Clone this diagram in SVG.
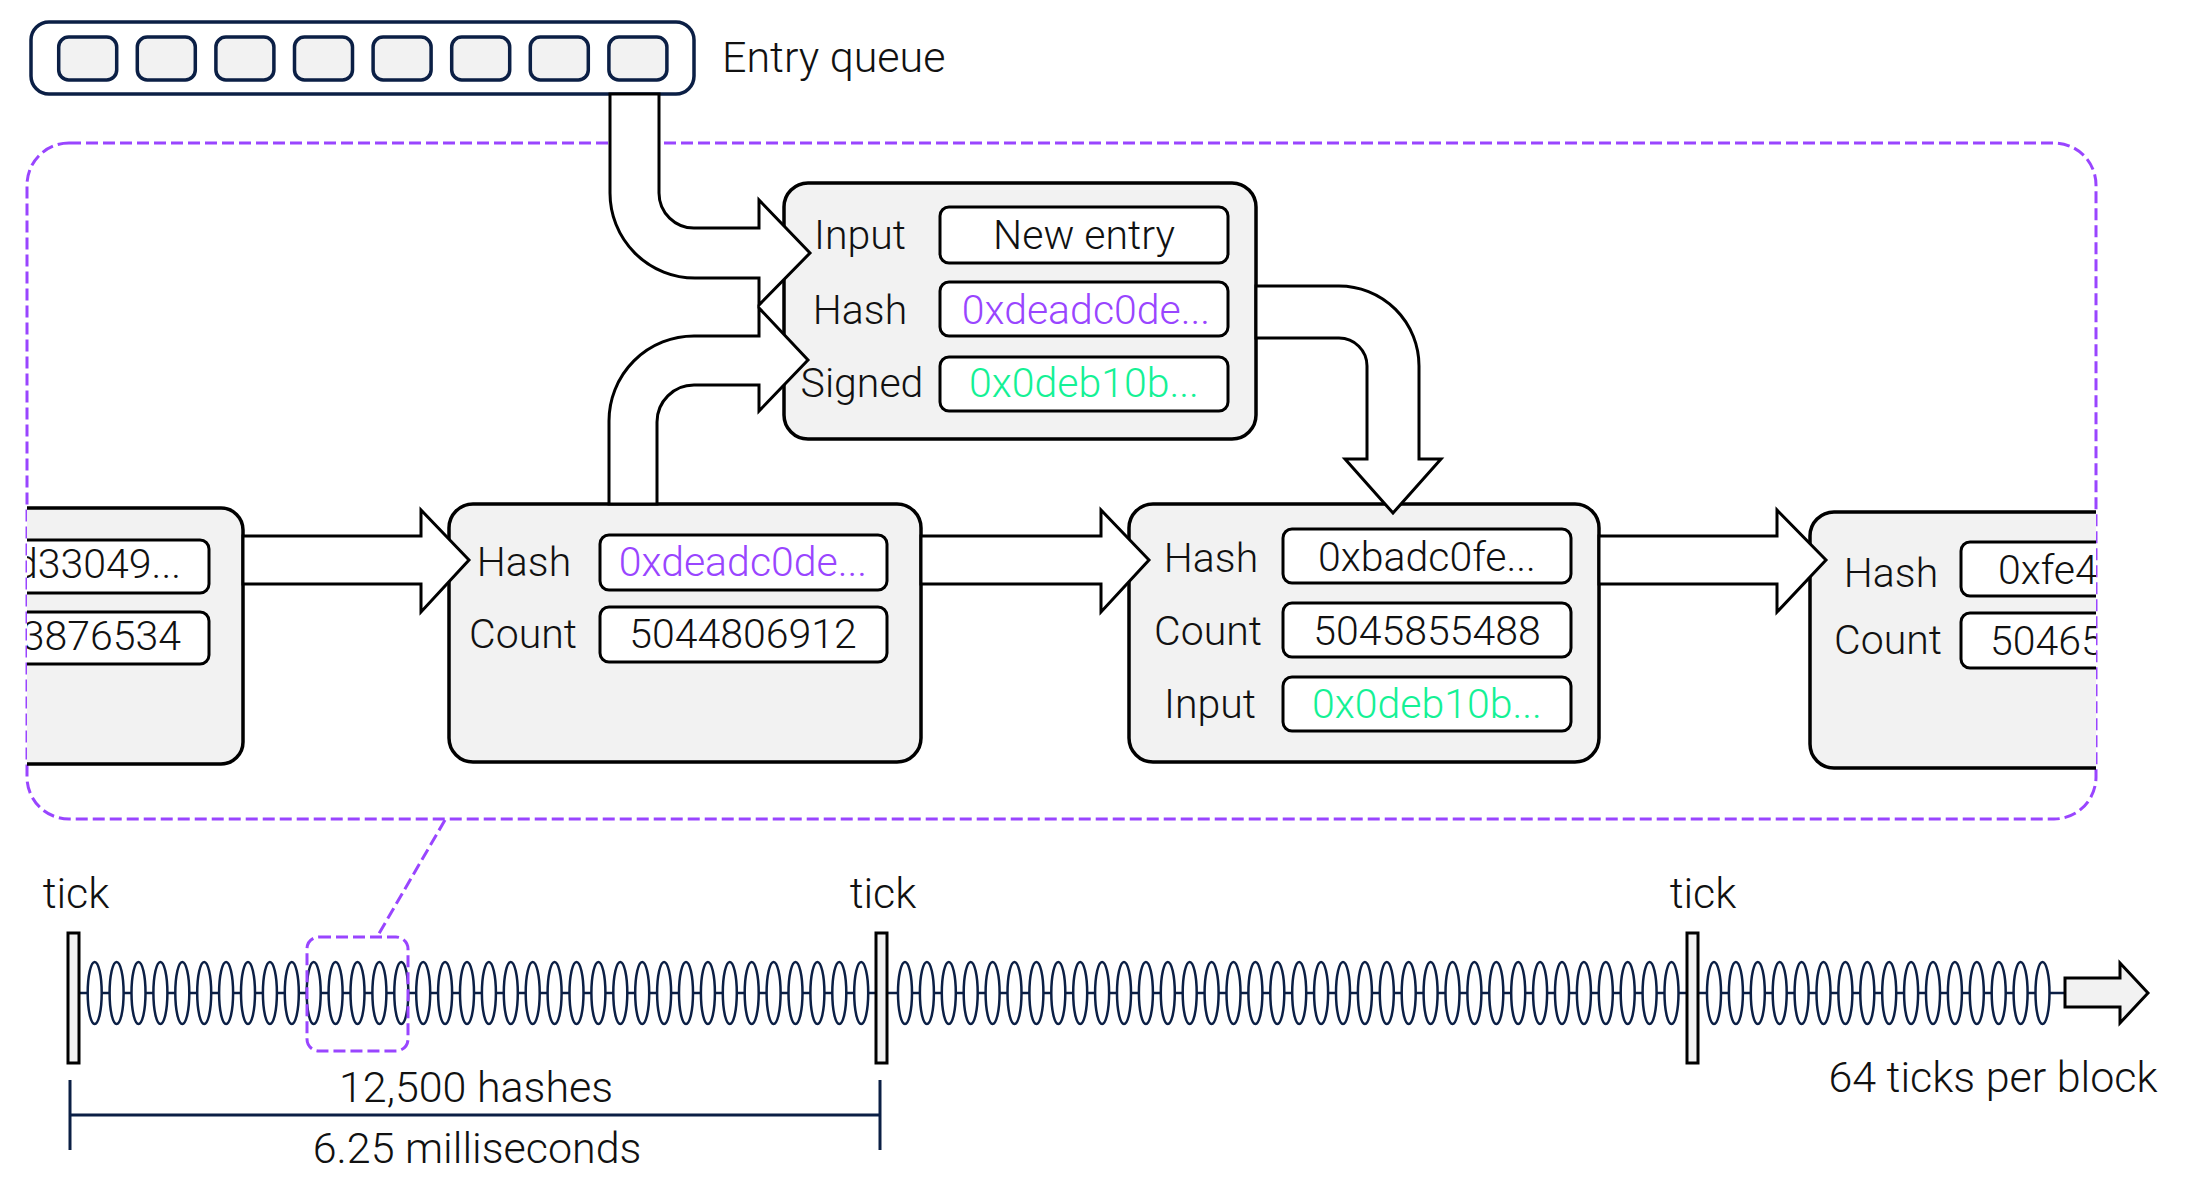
<svg xmlns="http://www.w3.org/2000/svg" width="2192" height="1180" viewBox="0 0 2192 1180">
<style>
text{font-family:Roboto,"Liberation Sans",sans-serif;font-weight:300;font-size:41px;fill:#111}
.lab{text-anchor:middle}
.val{text-anchor:middle}
.big{font-size:43px}
.pur{fill:#9945FF}
.grn{fill:#14F195}
.node{fill:#f2f2f2;stroke:#000;stroke-width:3.5}
.vbox{fill:#fff;stroke:#000;stroke-width:3}
.qbox{fill:#f2f2f2;stroke:#0b1f45;stroke-width:3.5}
.arrow{fill:#fff;stroke:#000;stroke-width:3;stroke-linejoin:miter}
.dash{fill:none;stroke:#9945FF;stroke-width:3;stroke-dasharray:12 5}
.coil ellipse{fill:#fff;stroke:#0b1f45;stroke-width:2.5}
.tickbar{fill:#f2f2f2;stroke:#000;stroke-width:3}
</style>
<defs>
<clipPath id="frame"><rect x="27" y="143" width="2069" height="676" rx="42"/></clipPath>
</defs>
<rect width="2192" height="1180" fill="#fff"/>

<g id="entry-queue">
<rect x="31" y="22" width="663" height="72" rx="18" fill="#fff" stroke="#0b1f45" stroke-width="3.5"/>
<rect class="qbox" x="58.7" y="37" width="58" height="43" rx="10"/>
<rect class="qbox" x="137.3" y="37" width="58" height="43" rx="10"/>
<rect class="qbox" x="215.9" y="37" width="58" height="43" rx="10"/>
<rect class="qbox" x="294.5" y="37" width="58" height="43" rx="10"/>
<rect class="qbox" x="373.1" y="37" width="58" height="43" rx="10"/>
<rect class="qbox" x="451.7" y="37" width="58" height="43" rx="10"/>
<rect class="qbox" x="530.3" y="37" width="58" height="43" rx="10"/>
<rect class="qbox" x="608.9" y="37" width="58" height="43" rx="10"/>
<text class="big" x="722" y="72">Entry queue</text>
</g>

<rect id="poh-frame" class="dash" x="27" y="143" width="2069" height="676" rx="42"/>

<g id="node-prev" clip-path="url(#frame)">
<rect class="node" x="-227" y="508" width="470" height="256" rx="22"/>
<rect class="vbox" x="-79" y="540" width="288" height="53" rx="9"/>
<rect class="vbox" x="-79" y="612" width="288" height="52" rx="9"/>
<text x="181" y="578" text-anchor="end">d33049...</text>
<text x="181" y="650" text-anchor="end">3876534</text>
</g>

<g id="node-entry">
<rect class="node" x="784" y="183" width="472" height="256" rx="24"/>
<rect class="vbox" x="940" y="207" width="288" height="56" rx="9"/>
<rect class="vbox" x="940" y="282" width="288" height="54" rx="9"/>
<rect class="vbox" x="940" y="357" width="288" height="54" rx="9"/>
<text class="lab" x="860" y="249">Input</text>
<text class="lab" x="860" y="324">Hash</text>
<text class="lab" x="862" y="397">Signed</text>
<text class="val" x="1084" y="249">New entry</text>
<text class="val pur" x="1086" y="324">0xdeadc0de...</text>
<text class="val grn" x="1084" y="397">0x0deb10b...</text>
</g>

<g id="node-b">
<rect class="node" x="449" y="504" width="472" height="258" rx="24"/>
<rect class="vbox" x="600" y="535" width="287" height="55" rx="9"/>
<rect class="vbox" x="600" y="607" width="287" height="55" rx="9"/>
<text class="lab" x="524" y="576">Hash</text>
<text class="lab" x="523" y="648">Count</text>
<text class="val pur" x="743" y="576">0xdeadc0de...</text>
<text class="val" x="743" y="648">5044806912</text>
</g>

<g id="node-c">
<rect class="node" x="1129" y="504" width="470" height="258" rx="24"/>
<rect class="vbox" x="1283" y="529" width="288" height="54" rx="9"/>
<rect class="vbox" x="1283" y="603" width="288" height="54" rx="9"/>
<rect class="vbox" x="1283" y="677" width="288" height="54" rx="9"/>
<text class="lab" x="1211" y="572">Hash</text>
<text class="lab" x="1208" y="645">Count</text>
<text class="lab" x="1210" y="718">Input</text>
<text class="val" x="1427" y="571">0xbadc0fe...</text>
<text class="val" x="1427" y="645">5045855488</text>
<text class="val grn" x="1427" y="718">0x0deb10b...</text>
</g>

<g id="node-next" clip-path="url(#frame)">
<rect class="node" x="1810" y="512" width="470" height="256" rx="24"/>
<rect class="vbox" x="1961" y="542" width="288" height="54" rx="9"/>
<rect class="vbox" x="1961" y="613" width="288" height="55" rx="9"/>
<text class="lab" x="1891" y="587">Hash</text>
<text class="lab" x="1888" y="654">Count</text>
<text x="1998" y="584">0xfe4</text>
<text x="1990" y="655">50465</text>
</g>

<g id="connectors">
<path class="arrow" d="M610,94 L610,193 A85,85 0 0 0 695,278 L759,278 L759,305 L810,253 L759,200 L759,228 L695,228 A35,35 0 0 1 659,193 L659,94 Z"/>
<path class="arrow" d="M609,504 L609,421 A85,85 0 0 1 694,336 L759,336 L759,308 L808,360 L759,411 L759,385 L694,385 A37,37 0 0 0 657,422 L657,504 Z"/>
<path class="arrow" d="M1256,286 L1339,286 A80,80 0 0 1 1419,366 L1419,459 L1441,459 L1393,513 L1345,459 L1367,459 L1367,366 A28,28 0 0 0 1339,338 L1256,338 Z"/>
<path class="arrow" d="M243,536 L421,536 L421,510 L469,560 L421,612 L421,584 L243,584 Z"/>
<path class="arrow" d="M921,536 L1101,536 L1101,510 L1149,560 L1101,612 L1101,584 L921,584 Z"/>
<path class="arrow" d="M1599,536 L1777,536 L1777,510 L1826,560 L1777,612 L1777,584 L1599,584 Z"/>
<line x1="445" y1="820" x2="377" y2="937" stroke="#9945FF" stroke-width="3" stroke-dasharray="12 5"/>
</g>

<g id="timeline">
<line x1="79" y1="993" x2="2066" y2="993" stroke="#0b1f45" stroke-width="2.5"/>
<g class="coil">
<ellipse cx="94.7" cy="993" rx="7" ry="31"/><ellipse cx="116.6" cy="993" rx="7" ry="31"/><ellipse cx="138.5" cy="993" rx="7" ry="31"/><ellipse cx="160.4" cy="993" rx="7" ry="31"/><ellipse cx="182.3" cy="993" rx="7" ry="31"/><ellipse cx="204.2" cy="993" rx="7" ry="31"/><ellipse cx="226.1" cy="993" rx="7" ry="31"/><ellipse cx="248" cy="993" rx="7" ry="31"/><ellipse cx="269.9" cy="993" rx="7" ry="31"/><ellipse cx="291.8" cy="993" rx="7" ry="31"/><ellipse cx="313.7" cy="993" rx="7" ry="31"/><ellipse cx="335.6" cy="993" rx="7" ry="31"/><ellipse cx="357.5" cy="993" rx="7" ry="31"/><ellipse cx="379.4" cy="993" rx="7" ry="31"/><ellipse cx="401.3" cy="993" rx="7" ry="31"/><ellipse cx="423.2" cy="993" rx="7" ry="31"/><ellipse cx="445.1" cy="993" rx="7" ry="31"/><ellipse cx="467" cy="993" rx="7" ry="31"/><ellipse cx="488.9" cy="993" rx="7" ry="31"/><ellipse cx="510.8" cy="993" rx="7" ry="31"/><ellipse cx="532.7" cy="993" rx="7" ry="31"/><ellipse cx="554.6" cy="993" rx="7" ry="31"/><ellipse cx="576.5" cy="993" rx="7" ry="31"/><ellipse cx="598.4" cy="993" rx="7" ry="31"/><ellipse cx="620.3" cy="993" rx="7" ry="31"/><ellipse cx="642.2" cy="993" rx="7" ry="31"/><ellipse cx="664.1" cy="993" rx="7" ry="31"/><ellipse cx="686" cy="993" rx="7" ry="31"/><ellipse cx="707.9" cy="993" rx="7" ry="31"/><ellipse cx="729.8" cy="993" rx="7" ry="31"/><ellipse cx="751.7" cy="993" rx="7" ry="31"/><ellipse cx="773.6" cy="993" rx="7" ry="31"/><ellipse cx="795.5" cy="993" rx="7" ry="31"/><ellipse cx="817.4" cy="993" rx="7" ry="31"/><ellipse cx="839.3" cy="993" rx="7" ry="31"/><ellipse cx="861.2" cy="993" rx="7" ry="31"/>
<ellipse cx="905" cy="993" rx="7" ry="31"/><ellipse cx="926.9" cy="993" rx="7" ry="31"/><ellipse cx="948.8" cy="993" rx="7" ry="31"/><ellipse cx="970.7" cy="993" rx="7" ry="31"/><ellipse cx="992.6" cy="993" rx="7" ry="31"/><ellipse cx="1014.5" cy="993" rx="7" ry="31"/><ellipse cx="1036.4" cy="993" rx="7" ry="31"/><ellipse cx="1058.3" cy="993" rx="7" ry="31"/><ellipse cx="1080.2" cy="993" rx="7" ry="31"/><ellipse cx="1102.1" cy="993" rx="7" ry="31"/><ellipse cx="1124" cy="993" rx="7" ry="31"/><ellipse cx="1145.9" cy="993" rx="7" ry="31"/><ellipse cx="1167.8" cy="993" rx="7" ry="31"/><ellipse cx="1189.7" cy="993" rx="7" ry="31"/><ellipse cx="1211.6" cy="993" rx="7" ry="31"/><ellipse cx="1233.5" cy="993" rx="7" ry="31"/><ellipse cx="1255.4" cy="993" rx="7" ry="31"/><ellipse cx="1277.3" cy="993" rx="7" ry="31"/><ellipse cx="1299.2" cy="993" rx="7" ry="31"/><ellipse cx="1321.1" cy="993" rx="7" ry="31"/><ellipse cx="1343" cy="993" rx="7" ry="31"/><ellipse cx="1364.9" cy="993" rx="7" ry="31"/><ellipse cx="1386.8" cy="993" rx="7" ry="31"/><ellipse cx="1408.7" cy="993" rx="7" ry="31"/><ellipse cx="1430.6" cy="993" rx="7" ry="31"/><ellipse cx="1452.5" cy="993" rx="7" ry="31"/><ellipse cx="1474.4" cy="993" rx="7" ry="31"/><ellipse cx="1496.3" cy="993" rx="7" ry="31"/><ellipse cx="1518.2" cy="993" rx="7" ry="31"/><ellipse cx="1540.1" cy="993" rx="7" ry="31"/><ellipse cx="1562" cy="993" rx="7" ry="31"/><ellipse cx="1583.9" cy="993" rx="7" ry="31"/><ellipse cx="1605.8" cy="993" rx="7" ry="31"/><ellipse cx="1627.7" cy="993" rx="7" ry="31"/><ellipse cx="1649.6" cy="993" rx="7" ry="31"/><ellipse cx="1671.5" cy="993" rx="7" ry="31"/>
<ellipse cx="1714" cy="993" rx="7" ry="31"/><ellipse cx="1735.9" cy="993" rx="7" ry="31"/><ellipse cx="1757.8" cy="993" rx="7" ry="31"/><ellipse cx="1779.7" cy="993" rx="7" ry="31"/><ellipse cx="1801.6" cy="993" rx="7" ry="31"/><ellipse cx="1823.5" cy="993" rx="7" ry="31"/><ellipse cx="1845.4" cy="993" rx="7" ry="31"/><ellipse cx="1867.3" cy="993" rx="7" ry="31"/><ellipse cx="1889.2" cy="993" rx="7" ry="31"/><ellipse cx="1911.1" cy="993" rx="7" ry="31"/><ellipse cx="1933" cy="993" rx="7" ry="31"/><ellipse cx="1954.9" cy="993" rx="7" ry="31"/><ellipse cx="1976.8" cy="993" rx="7" ry="31"/><ellipse cx="1998.7" cy="993" rx="7" ry="31"/><ellipse cx="2020.6" cy="993" rx="7" ry="31"/><ellipse cx="2042.5" cy="993" rx="7" ry="31"/>
</g>
<rect class="tickbar" x="68" y="933" width="11" height="130"/>
<rect class="tickbar" x="876" y="933" width="11" height="130"/>
<rect class="tickbar" x="1687" y="933" width="11" height="130"/>
<text class="lab big" x="76" y="908">tick</text>
<text class="lab big" x="883" y="908">tick</text>
<text class="lab big" x="1703" y="908">tick</text>
<rect class="dash" x="307" y="937" width="101" height="114" rx="12"/>
<path d="M2065,978 L2120,978 L2120,963 L2148,993 L2120,1023 L2120,1007 L2065,1007 Z" fill="#f2f2f2" stroke="#000" stroke-width="3"/>
<text class="lab big" x="1993" y="1092">64 ticks per block</text>
<g stroke="#0b1f45" stroke-width="3">
<line x1="70" y1="1080" x2="70" y2="1150"/>
<line x1="880" y1="1080" x2="880" y2="1150"/>
<line x1="70" y1="1115" x2="880" y2="1115"/>
</g>
<text class="lab big" x="476" y="1102">12,500 hashes</text>
<text class="lab big" x="477" y="1163">6.25 milliseconds</text>
</g>
</svg>
